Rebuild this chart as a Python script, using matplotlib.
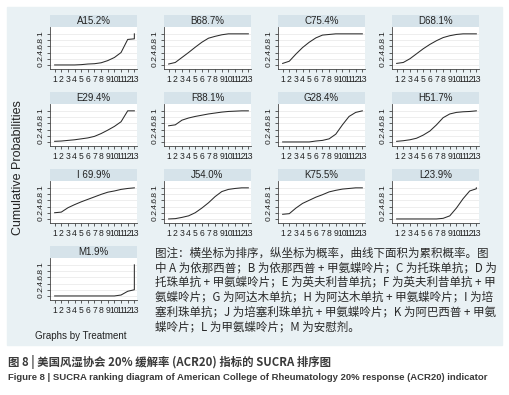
import numpy as np
import matplotlib
matplotlib.use("Agg")
import matplotlib.pyplot as plt
from matplotlib.patches import Rectangle

W, H = 509, 395

# rank positions (rank 13 repeated so the final jump to 1 can be drawn)
ranks = [1, 2, 3, 4, 5, 6, 7, 8, 9, 10, 11, 12, 13, 13]

titles = ["A15.2%", "B68.7%", "C75.4%", "D68.1%",
          "E29.4%", "F88.1%", "G28.4%", "H51.7%",
          "I 69.9%", "J54.0%", "K75.5%", "L23.9%",
          "M1.9%"]

cum_A = [0, 0, 0, 0, 0.01, 0.03, 0.04, 0.07, 0.14, 0.24, 0.40, 0.82, 0.84, 1]
cum_B = [0.03, 0.08, 0.24, 0.40, 0.57, 0.73, 0.86, 0.92, 0.97, 1, 1, 1, 1, 1]
cum_C = [0.05, 0.12, 0.35, 0.56, 0.73, 0.87, 0.96, 0.98, 1, 1, 1, 1, 1, 1]
cum_D = [0.05, 0.08, 0.20, 0.36, 0.52, 0.66, 0.78, 0.88, 0.94, 0.98, 1, 1, 1, 1]
cum_E = [0.02, 0.03, 0.05, 0.07, 0.10, 0.13, 0.18, 0.27, 0.38, 0.50, 0.65, 1, 1, 1]
cum_F = [0.52, 0.55, 0.70, 0.77, 0.82, 0.86, 0.90, 0.93, 0.96, 0.98, 0.99, 1, 1, 1]
cum_G = [0, 0, 0, 0, 0, 0.03, 0.05, 0.10, 0.25, 0.55, 0.82, 0.95, 1, 1]
cum_H = [0.02, 0.04, 0.07, 0.12, 0.22, 0.35, 0.55, 0.78, 0.90, 0.95, 0.97, 0.98, 1, 1]
cum_I = [0.20, 0.22, 0.36, 0.46, 0.55, 0.63, 0.71, 0.79, 0.86, 0.90, 0.95, 0.98, 1, 1]
cum_J = [0, 0.01, 0.05, 0.10, 0.20, 0.35, 0.52, 0.72, 0.88, 0.95, 0.98, 1, 1, 1]
cum_K = [0.15, 0.17, 0.35, 0.50, 0.60, 0.70, 0.78, 0.87, 0.92, 0.96, 0.98, 1, 1, 1]
cum_L = [0, 0, 0, 0, 0, 0, 0, 0.02, 0.10, 0.35, 0.65, 0.90, 0.97, 1]
cum_M = [0, 0, 0, 0, 0, 0, 0, 0, 0, 0, 0.03, 0.15, 0.20, 1]

series = [cum_A, cum_B, cum_C, cum_D, cum_E, cum_F, cum_G,
          cum_H, cum_I, cum_J, cum_K, cum_L, cum_M]

yticks = [0, 0.2, 0.4, 0.6, 0.8, 1]
ytick_labels = ["0", ".2", ".4", ".6", ".8", "1"]
xticks = list(range(1, 14))

note_lines = [
    "图注：横坐标为排序，纵坐标为概率，曲线下面积为累积概率。图",
    "中 A 为依那西普；B 为依那西普 + 甲氨蝶呤片；C 为托珠单抗；D 为",
    "托珠单抗 + 甲氨蝶呤片；E 为英夫利昔单抗；F 为英夫利昔单抗 + 甲",
    "氨蝶呤片；G 为阿达木单抗；H 为阿达木单抗 + 甲氨蝶呤片；I 为培",
    "塞利珠单抗；J 为培塞利珠单抗 + 甲氨蝶呤片；K 为阿巴西普 + 甲氨",
    "蝶呤片；L 为甲氨蝶呤片；M 为安慰剂。",
]
caption_cn = "图 8 | 美国风湿协会 20% 缓解率 (ACR20) 指标的 SUCRA 排序图"
caption_en = ("Figure 8 | SUCRA ranking diagram of American College of "
              "Rheumatology 20% response (ACR20) indicator")

BG = "#e9f1f4"
STRIP = "#d6e3ea"
LINE = "#2b2b2b"

fig = plt.figure(figsize=(W / 100, H / 100), dpi=100)
fig.patch.set_facecolor("white")


def px_axes(x0, y0, w, h):
    return fig.add_axes([x0 / W, 1 - (y0 + h) / H, w / W, h / H])


fig.patches.append(Rectangle((7 / W, 1 - 345 / H), 495 / W, 338 / H,
                             transform=fig.transFigure, color=BG, zorder=-10))

col_x = [50, 164, 278, 392]
row_y = [15, 92, 169, 246]
pw, strip_h, plot_h = 87, 12, 42

for i, (title, vals) in enumerate(zip(titles, series)):
    r, c = divmod(i, 4)
    x0, y0 = col_x[c], row_y[r]
    # strip title
    sax = px_axes(x0, y0, pw, strip_h)
    sax.set_facecolor(STRIP)
    sax.set_xticks([])
    sax.set_yticks([])
    for s in sax.spines.values():
        s.set_visible(False)
    sax.text(0.5, 0.5, title, ha="center", va="center", fontsize=7,
             family="Liberation Sans", color="#222222", transform=sax.transAxes)

    ax = px_axes(x0, y0 + strip_h, pw, plot_h)
    ax.plot(ranks, vals, color=LINE, lw=0.75)
    ax.set_xlim(0.3, 13.4)
    ax.set_ylim(-0.13, 1.22)
    ax.set_yticks(yticks)
    ax.set_yticklabels(ytick_labels, rotation=90, va="center",
                       fontsize=6, family="Liberation Sans")
    ax.set_xticks(xticks)
    ax.set_xticklabels([str(t) for t in xticks], fontsize=6.2,
                       family="Liberation Sans")
    ax.grid(axis="y", color="#e8e8e8", lw=0.5)
    ax.set_axisbelow(True)
    for side in ["top", "right"]:
        ax.spines[side].set_visible(False)
    for side in ["left", "bottom"]:
        ax.spines[side].set_color("#444444")
        ax.spines[side].set_linewidth(0.6)
    ax.tick_params(length=2.5, width=0.5, pad=1.5, colors="#222222")

fig.text(18 / W, 1 - 168 / H, "Cumulative Probabilities", rotation=90,
         ha="center", va="center", fontsize=9, family="Liberation Sans",
         color="#222222")
fig.text(81 / W, 1 - 336 / H, "Graphs by Treatment", ha="center", va="center",
         fontsize=7, family="Liberation Sans", color="#222222")

for k, line in enumerate(note_lines):
    fig.text(155 / W, 1 - (253 + 14.7 * k) / H, line, ha="left", va="center",
             fontsize=8.3, family=["Noto Sans CJK SC", "DejaVu Sans"],
             color="#2a2a2a")

fig.text(8 / W, 1 - 362 / H, caption_cn, ha="left", va="center",
         fontsize=8.2, fontweight="bold",
         family=["Noto Sans CJK SC", "DejaVu Sans"], color="#3a3a3a")
fig.text(8 / W, 1 - 378 / H, caption_en, ha="left", va="center",
         fontsize=6.8, fontweight="bold", family="Liberation Sans",
         color="#3a3a3a")

fig.savefig("out.png", dpi=100)
